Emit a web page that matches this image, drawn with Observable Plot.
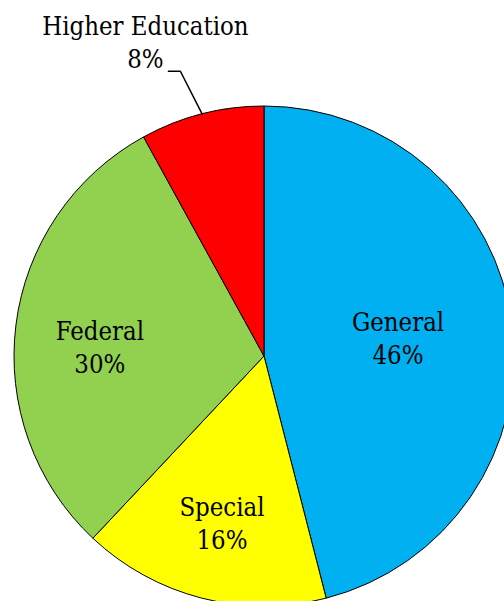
<!DOCTYPE html>
<html>
<head>
<meta charset="utf-8">
<script src="https://cdn.jsdelivr.net/npm/d3@7"></script>
<script src="https://cdn.jsdelivr.net/npm/@observablehq/plot@0.6"></script>
<style>
  html, body { margin: 0; padding: 0; background: #fff; }
  svg { display: block; overflow: hidden; }
</style>
</head>
<body>
<div id="chart"></div>
<script>
// ---- data ----
const categories = ["General", "Special", "Federal", "Higher Education"];
const values = [46, 16, 30, 8];
const labels = ["General\n46%", "Special\n16%", "Federal\n30%", "Higher Education\n8%"];
const colors = ["#00B0F0", "#FFFF00", "#92D050", "#FF0000"];

// ---- layout ----
const W = 504, H = 601;
const cx = 264, cy = 356, R = 250;
const labelRadius = [135, 171, 165, 337];
const labelNudge = [-1.3, 0, -3.4, -6.3];
const FONT = "'DejaVu Serif Condensed', 'DejaVu Serif', serif";

const table = categories.map((c, i) => ({category: c, value: values[i], label: labels[i], color: colors[i]}));
const arcs = d3.pie().sort(null).value(d => d.value)(table);

const rad = Math.PI / 180;
const labelData = arcs.map((a, i) => {
  const ang = (a.startAngle + a.endAngle) / 2 + labelNudge[i] * rad;
  return {label: a.data.label, x: cx + labelRadius[i] * Math.sin(ang), y: cy - labelRadius[i] * Math.cos(ang)};
});

const hi = arcs[3];
const hiMid = (hi.startAngle + hi.endAngle) / 2;
const lab = labelData[3];
const leader = [
  {x: lab.x + 23, y: lab.y + 30},
  {x: lab.x + 35, y: lab.y + 30},
  {x: cx + R * Math.sin(hiMid), y: cy - R * Math.cos(hiMid)}
];

const arcGen = d3.arc().innerRadius(0).outerRadius(R);

function pieMark(index, scales) {
  const sx = scales && scales.x ? scales.x : (v => v);
  const sy = scales && scales.y ? scales.y : (v => v);
  const g = d3.create("svg:g").attr("transform", `translate(${sx(cx)},${sy(cy)})`);
  g.selectAll("path")
    .data(arcs)
    .join("path")
    .attr("d", arcGen)
    .attr("fill", d => d.data.color)
    .attr("stroke", "#000")
    .attr("stroke-width", 1)
    .attr("stroke-linejoin", "round");
  return g.node();
}

const chart = Plot.plot({
  width: W,
  height: H,
  margin: 0,
  style: {background: "#fff"},
  x: {domain: [0, W], range: [0, W], axis: null},
  y: {domain: [0, H], range: [0, H], axis: null},
  marks: [
    pieMark,
    Plot.line(leader, {x: "x", y: "y", stroke: "#000", strokeWidth: 1.5, curve: "linear"}),
    Plot.text(labelData, {
      x: "x", y: "y", text: "label",
      fontFamily: FONT,
      fontSize: 25.5, lineHeight: 1.3, fill: "#000", textAnchor: "middle"
    })
  ]
});

d3.select(chart).selectAll("text").style("font-family", FONT);
document.getElementById("chart").appendChild(chart);
</script>
</body>
</html>
